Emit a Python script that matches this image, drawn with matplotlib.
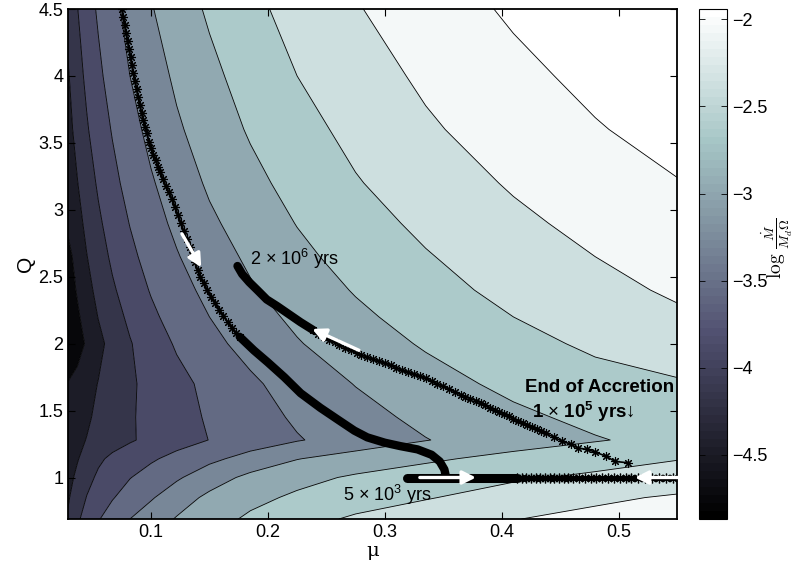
import numpy as np
import matplotlib
matplotlib.use('Agg')
import matplotlib.pyplot as plt
from matplotlib import colors as mcolors
from matplotlib.cm import ScalarMappable

plt.rcParams['font.family'] = ['Liberation Sans', 'DejaVu Sans']
plt.rcParams['mathtext.fontset'] = 'custom'
plt.rcParams['mathtext.rm'] = 'Liberation Sans'
plt.rcParams['mathtext.it'] = 'Liberation Sans:italic'
plt.rcParams['mathtext.bf'] = 'Liberation Sans:bold'

# ---- field: log(Mdot / (Md Omega)) ----
mu_grid = [0.029, 0.037, 0.045, 0.055, 0.067, 0.082, 0.1, 0.122, 0.15, 0.185,
           0.225, 0.275, 0.335, 0.41, 0.48, 0.551]
q_grid = [0.69, 0.85, 1.0, 1.14, 1.28, 1.45, 1.7, 2.0, 2.2, 2.4, 2.65, 2.9, 3.2, 3.6, 4.0, 4.5]
log_mdot = [
    [-4.37, -4.15, -3.98, -3.82, -3.66, -3.50, -3.34, -3.18, -3.02, -2.85, -2.70, -2.56, -2.43, -2.31, -2.21, -2.12],
    [-4.43, -4.26, -4.09, -3.96, -3.82, -3.67, -3.53, -3.33, -3.14, -2.98, -2.85, -2.73, -2.62, -2.47, -2.36, -2.26],
    [-4.49, -4.34, -4.19, -4.05, -3.93, -3.81, -3.68, -3.54, -3.33, -3.13, -2.99, -2.86, -2.75, -2.64, -2.55, -2.48],
    [-4.56, -4.42, -4.29, -4.15, -4.04, -3.94, -3.84, -3.71, -3.57, -3.39, -3.21, -3.08, -2.95, -2.81, -2.71, -2.61],
    [-4.56, -4.47, -4.39, -4.30, -4.22, -4.13, -4.03, -3.92, -3.795, -3.66, -3.52, -3.37, -3.21, -3.04, -2.92, -2.81],
    [-4.64, -4.55, -4.45, -4.33, -4.24, -4.13, -4.02, -3.90, -3.77, -3.62, -3.46, -3.30, -3.13, -2.96, -2.83, -2.71],
    [-4.69, -4.60, -4.50, -4.39, -4.28, -4.15, -4.00, -3.88, -3.73, -3.55, -3.37, -3.19, -3.01, -2.83, -2.70, -2.63],
    [-4.87, -4.83, -4.66, -4.48, -4.30, -4.12, -3.94, -3.77, -3.58, -3.40, -3.22, -3.04, -2.87, -2.69, -2.55, -2.43],
    [-4.87, -4.75, -4.57, -4.39, -4.22, -4.04, -3.86, -3.68, -3.50, -3.31, -3.14, -2.96, -2.78, -2.60, -2.46, -2.34],
    [-4.86, -4.67, -4.49, -4.32, -4.14, -3.96, -3.78, -3.61, -3.42, -3.23, -3.06, -2.88, -2.70, -2.52, -2.38, -2.26],
    [-4.80, -4.58, -4.41, -4.23, -4.05, -3.87, -3.69, -3.52, -3.33, -3.15, -2.97, -2.79, -2.62, -2.44, -2.30, -2.17],
    [-4.64, -4.50, -4.33, -4.15, -3.97, -3.79, -3.61, -3.44, -3.25, -3.07, -2.89, -2.71, -2.54, -2.36, -2.22, -2.09],
    [-4.63, -4.41, -4.24, -4.06, -3.88, -3.70, -3.53, -3.35, -3.16, -2.98, -2.80, -2.62, -2.45, -2.27, -2.13, -2.01],
    [-4.49, -4.31, -4.13, -3.95, -3.78, -3.60, -3.42, -3.24, -3.06, -2.87, -2.70, -2.52, -2.34, -2.16, -2.02, -1.90],
    [-4.43, -4.21, -4.04, -3.86, -3.68, -3.50, -3.33, -3.15, -2.97, -2.78, -2.60, -2.43, -2.25, -2.07, -1.93, -1.81],
    [-4.30, -4.11, -3.93, -3.76, -3.58, -3.40, -3.22, -3.04, -2.86, -2.67, -2.50, -2.32, -2.14, -1.96, -1.82, -1.70],
]
contour_levels = [-4.7, -4.4, -4.1, -3.8, -3.5, -3.2, -2.9, -2.6, -2.3, -2.0]
cbar_min, cbar_max = -4.87, -1.94
cbar_ticks = [-4.5, -4, -3.5, -3, -2.5, -2]

# ---- tracks ----
# disc 1: falls from high Q (asterisks), then the dense (thick) part down to Q~1
trackB_star_mu = [0.0752, 0.0763, 0.0775, 0.0787, 0.080, 0.0812, 0.0825, 0.0837, 0.085, 0.0863,
                  0.0877, 0.0891, 0.0905, 0.092, 0.0935, 0.095, 0.0965, 0.0982, 0.100, 0.102,
                  0.104, 0.106, 0.108, 0.110, 0.1125, 0.115, 0.118, 0.1205, 0.123, 0.1255,
                  0.128, 0.1305, 0.133, 0.1352, 0.1375, 0.1398, 0.142, 0.145, 0.148, 0.1515,
                  0.155, 0.1585, 0.162, 0.1655, 0.169, 0.1725, 0.176]
trackB_star_q = [4.50, 4.44, 4.38, 4.32, 4.26, 4.20, 4.14, 4.08, 4.02, 3.96,
                 3.90, 3.84, 3.78, 3.72, 3.67, 3.62, 3.57, 3.51, 3.46, 3.41,
                 3.37, 3.32, 3.28, 3.23, 3.18, 3.13, 3.08, 3.02, 2.96, 2.90,
                 2.84, 2.78, 2.72, 2.66, 2.61, 2.55, 2.50, 2.45, 2.40, 2.35,
                 2.30, 2.25, 2.21, 2.16, 2.12, 2.08, 2.05]
trackB_thick_mu = [0.176, 0.188, 0.200, 0.214, 0.228, 0.245, 0.262, 0.274, 0.285, 0.300,
                   0.313, 0.328, 0.340, 0.347, 0.351, 0.352, 0.350]
trackB_thick_q = [2.05, 1.95, 1.86, 1.75, 1.63, 1.52, 1.42, 1.35, 1.30, 1.26,
                  1.235, 1.21, 1.17, 1.12, 1.06, 1.02, 1.00]

# disc 2: accretion along Q = 1 starting at 5e3 yrs
accr_thick_mu = [0.319, 0.413]
accr_thick_q = [1.0, 1.0]
accr_star_mu = [0.413, 0.417, 0.421, 0.425, 0.429, 0.433, 0.437, 0.441, 0.445, 0.449,
                0.453, 0.457, 0.461, 0.466, 0.471, 0.476, 0.481, 0.486, 0.491, 0.496,
                0.501, 0.506, 0.511, 0.517, 0.523, 0.529, 0.535, 0.541, 0.547]
accr_star_q = [1.0] * len(accr_star_mu)

# disc 2 after end of accretion (1e5 yrs) up to 2e6 yrs
trackA_star_mu = [0.511, 0.508, 0.497, 0.489, 0.480, 0.473, 0.465, 0.459, 0.452, 0.445,
                  0.438, 0.434, 0.430, 0.426, 0.422, 0.418, 0.414, 0.410, 0.406, 0.402,
                  0.398, 0.394, 0.390, 0.386, 0.382, 0.378, 0.373, 0.369, 0.365, 0.360,
                  0.355, 0.350, 0.345, 0.340, 0.335, 0.330, 0.325, 0.320, 0.315, 0.310,
                  0.305, 0.300, 0.295, 0.290, 0.285, 0.280, 0.276, 0.271, 0.266, 0.261,
                  0.257, 0.252, 0.248, 0.243, 0.239]
trackA_star_q = [1.00, 1.11, 1.12, 1.16, 1.19, 1.21, 1.22, 1.25, 1.27, 1.30,
                 1.33, 1.345, 1.36, 1.375, 1.39, 1.405, 1.42, 1.44, 1.46, 1.475,
                 1.49, 1.505, 1.52, 1.54, 1.56, 1.575, 1.59, 1.605, 1.62, 1.64,
                 1.66, 1.68, 1.70, 1.72, 1.74, 1.755, 1.77, 1.785, 1.80, 1.82,
                 1.84, 1.855, 1.87, 1.885, 1.90, 1.915, 1.93, 1.95, 1.97, 1.99,
                 2.01, 2.03, 2.05, 2.075, 2.10]
trackA_thick_mu = [0.239, 0.228, 0.218, 0.208, 0.199, 0.191, 0.184, 0.178, 0.174]
trackA_thick_q = [2.10, 2.16, 2.22, 2.28, 2.33, 2.40, 2.46, 2.52, 2.58]

# white direction arrows (tail -> head)
arrows = [((0.1265, 2.82), (0.143, 2.57)),
          ((0.278, 1.95), (0.238, 2.11)),
          ((0.330, 1.0), (0.378, 1.0)),
          ((0.554, 1.0), (0.514, 1.0))]

# ---- figure ----
fig = plt.figure(figsize=(7.96, 5.67), dpi=100)
ax = fig.add_axes([68 / 796, 48 / 567, 609 / 796, 510 / 567])
cax = fig.add_axes([699 / 796, 48 / 567, 28 / 796, 510 / 567])

bone = plt.get_cmap('bone', 64)
norm = mcolors.Normalize(cbar_min, cbar_max)

M, Qg = np.meshgrid(mu_grid, q_grid)
Z = np.array(log_mdot)
edges = [-5.0] + contour_levels + [-1.5]
band_cols = [bone(norm(min(0.5 * (edges[i] + edges[i + 1]), cbar_max) + 0.08))
             for i in range(len(edges) - 1)]
ax.contourf(M, Qg, Z, levels=edges, colors=band_cols, antialiased=True)
ax.contour(M, Qg, Z, levels=contour_levels, colors='k', linewidths=0.6,
           linestyles='solid')

# tracks
star = dict(ls='none', marker=(8, 2, 0), color='k', zorder=3)
ax.plot(trackB_star_mu, trackB_star_q, color='k', lw=1.5, zorder=3)
ax.plot(trackB_star_mu, trackB_star_q, ms=6.5, mew=0.8, **star)
ax.plot(trackB_thick_mu, trackB_thick_q, color='k', lw=6, solid_capstyle='round', zorder=3)
ax.plot(accr_thick_mu, accr_thick_q, color='k', lw=6.5, solid_capstyle='round', zorder=3)
ax.plot(accr_star_mu, accr_star_q, color='k', lw=3.5, zorder=3)
ax.plot(accr_star_mu, accr_star_q, ms=7, mew=0.9, **star)
ax.plot(trackA_star_mu[1:], trackA_star_q[1:], color='k', lw=1.2, zorder=3)
ax.plot(trackA_star_mu, trackA_star_q, ms=6.5, mew=0.8, **star)
ax.plot(trackA_thick_mu, trackA_thick_q, color='k', lw=6, solid_capstyle='round', zorder=3)

for (x0, y0), (x1, y1) in arrows:
    ax.annotate('', xy=(x1, y1), xytext=(x0, y0), annotation_clip=False, zorder=5,
                arrowprops=dict(arrowstyle='-|>,head_length=0.8,head_width=0.4',
                                color='white', lw=2.4, shrinkA=0, shrinkB=0))

ax.text(0.1848, 2.63, r'2 $\times$ 10$^6$ yrs', fontsize=13, va='center', zorder=6)
ax.text(0.2645, 0.87, r'5 $\times$ 10$^3$ yrs', fontsize=13, va='center', zorder=6)
ax.text(0.420, 1.67, 'End of Accretion', fontsize=13.5, fontweight='bold', va='center',
        zorder=6, clip_on=False)
ax.text(0.426, 1.49, r'1 $\times$ 10$^{\mathbf{5}}$ yrs↓', fontsize=13.5, fontweight='bold',
        va='center', zorder=6)

ax.set_xlim(0.029, 0.55)
ax.set_ylim(0.69, 4.5)
ax.set_xticks([0.1, 0.2, 0.3, 0.4, 0.5])
ax.set_yticks([1, 1.5, 2, 2.5, 3, 3.5, 4, 4.5])
ax.set_yticklabels(['1', '1.5', '2', '2.5', '3', '3.5', '4', '4.5'])
ax.tick_params(direction='in', top=True, right=True, length=5, width=0.8, labelsize=13)
for s in ax.spines.values():
    s.set_linewidth(1.3)
ax.set_xlabel('μ', fontsize=14, family='DejaVu Serif', labelpad=1)
ax.set_ylabel('Q', fontsize=15, labelpad=2)

sm = ScalarMappable(norm=norm, cmap=bone)
cb = fig.colorbar(sm, cax=cax, ticks=cbar_ticks)
cb.ax.set_yticklabels(['\u22124.5', '\u22124', '\u22123.5', '\u22123', '\u22122.5', '\u22122'])
cb.ax.tick_params(direction='in', left=True, right=True, length=4, width=0.6, labelsize=13)
cb.outline.set_linewidth(0.8)
cb.ax.text(2.8, 0.53, r'$\log\,\frac{\dot{M}}{M_d\Omega}$', rotation=90, ha='center',
           va='center', fontsize=14, math_fontfamily='cm', transform=cb.ax.transAxes)

fig.savefig('out.png', dpi=100)
